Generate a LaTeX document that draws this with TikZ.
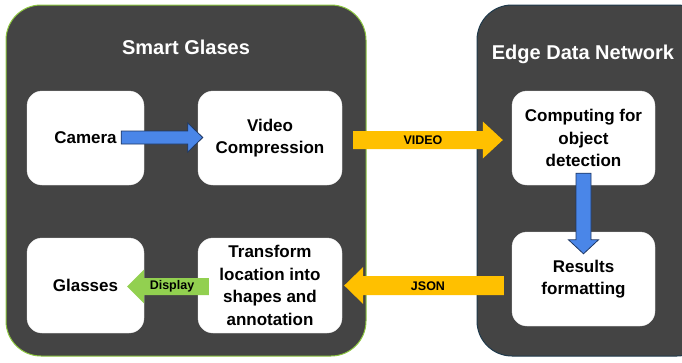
\documentclass[tikz,border=0pt]{standalone}
\usepackage{fontspec}
\setmainfont{Liberation Sans}
\usetikzlibrary{calc}
\definecolor{panel}{HTML}{444444}
\definecolor{sgborder}{HTML}{8CC63F}
\definecolor{edborder}{HTML}{1F3A4C}
\definecolor{bluearr}{HTML}{4A86E8}
\definecolor{bluedge}{HTML}{1F3864}
\definecolor{yelarr}{HTML}{FFC000}
\definecolor{grnarr}{HTML}{92D050}
\tikzset{
  panelbox/.style={fill=panel, rounded corners=35pt, line width=1pt},
  titletext/.style={text=white, font=\bfseries\fontsize{20}{24}\selectfont},
  whitebox/.style={fill=white, draw=white!85!gray, rounded corners=15pt, align=center,
    font=\bfseries\fontsize{17}{22.5}\selectfont, text=black, inner sep=0pt},
  arrowlabel/.style={font=\bfseries\fontsize{12.5}{15}\selectfont, text=black},
}
% horizontal block arrow: #1 style, #2 start, #3 tip, #4 shaft half, #5 head half, #6 head length
\newcommand\hblockarrow[6]{%
  \path[#1] let \p1=(#2), \p2=(#3), \n1={sign(\x2-\x1)} in
    (\x1,\y1+#4) -- ({\x2-\n1*#6},\y1+#4) -- ({\x2-\n1*#6},\y1+#5) -- (\x2,\y1)
    -- ({\x2-\n1*#6},\y1-#5) -- ({\x2-\n1*#6},\y1-#4) -- (\x1,\y1-#4) -- cycle;}
% vertical (downward on page) block arrow
\newcommand\vblockarrow[6]{%
  \path[#1] let \p1=(#2), \p2=(#3) in
    (\x1+#4,\y1) -- (\x1+#4,{\y2+#6}) -- (\x1+#5,{\y2+#6}) -- (\x1,\y2)
    -- (\x1-#5,{\y2+#6}) -- (\x1-#4,{\y2+#6}) -- (\x1-#4,\y1) -- cycle;}
\begin{document}
\begin{tikzpicture}[x=1pt,y=-1pt]
\useasboundingbox (0,0) rectangle (682,362);
\begin{scope}
\clip (0,0) rectangle (682,362);
% panels
\path[panelbox, draw=sgborder] (6,5) rectangle (366,356);
\path[panelbox, draw=edborder] (477,5) rectangle (712,356);
\end{scope}
\node[titletext] (sgtitle) at (186,47) {Smart Glases};
\node[titletext] (edtitle) at (583,54) {Edge Data Network};
% boxes
\node[whitebox, minimum width=117pt, minimum height=94pt] (cam) at (85.5,138) {Camera};
\node[whitebox, minimum width=144pt, minimum height=94pt] (vc) at (270,138) {Video\\Compression};
\node[whitebox, minimum width=117pt, minimum height=95pt] (gl) at (85.5,285.5) {Glasses};
\node[whitebox, minimum width=144pt, minimum height=95pt] (tr) at (270,285.5) {Transform\\location into\\shapes and\\annotation};
\node[whitebox, minimum width=143pt, minimum height=94pt] (comp) at (583.5,138) {Computing for\\object\\detection};
\node[whitebox, minimum width=143pt, minimum height=94pt] (res) at (583.5,279) {Results\\formatting};
% arrow end points
\coordinate (camA) at ($(cam.east)+(-23,-0.5)$);
\coordinate (camB) at ($(vc.west)+(5,-0.5)$);
\coordinate (vidA) at ($(vc.east)+(11,2)$);
\coordinate (vidB) at ($(comp.west)+(-9,2)$);
\coordinate (dnA) at ($(comp.south)+(0,-12)$);
\coordinate (dnB) at ($(res.north)+(0,22)$);
\coordinate (jsA) at ($(res.west)+(-8,6.5)$);
\coordinate (jsB) at ($(tr.east)+(2,0)$);
\coordinate (dpA) at ($(tr.west)+(11,1)$);
\coordinate (dpB) at ($(gl.east)+(-17,1)$);
% arrows
\hblockarrow{fill=bluearr, draw=bluedge, line width=0.8pt}{camA}{camB}{6.5pt}{14.5pt}{15pt}
\hblockarrow{fill=yelarr}{vidA}{vidB}{9pt}{18.5pt}{20pt}
\vblockarrow{fill=bluearr, draw=bluedge, line width=0.8pt}{dnA}{dnB}{7.5pt}{15pt}{14pt}
\hblockarrow{fill=yelarr}{jsA}{jsB}{9.5pt}{18.5pt}{19pt}
\hblockarrow{fill=grnarr}{dpA}{dpB}{8.5pt}{17pt}{17pt}
% arrow labels
\node[arrowlabel] (vidlbl) at (423,140) {VIDEO};
\node[arrowlabel] (jslbl) at (428,286) {JSON};
\node[arrowlabel] (dplbl) at (172,286.5) {Display};
\end{tikzpicture}
\end{document}
